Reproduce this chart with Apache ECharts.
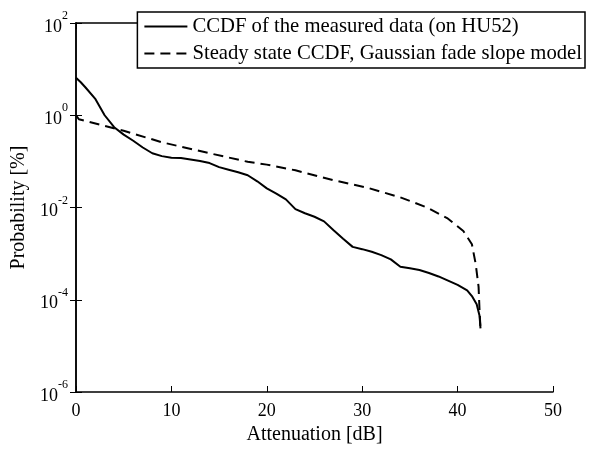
<!DOCTYPE html>
<html>
<head>
<meta charset="utf-8">
<script src="https://cdn.jsdelivr.net/npm/echarts@6/dist/echarts.min.js"></script>
<style>html,body{margin:0;padding:0;background:#fff}#c{width:596px;height:450px}</style>
</head>
<body>
<div id="c"></div>
<script>
// Measured CCDF (solid)
const measuredX = [0, 0.5, 1, 2, 3, 4, 5, 6, 7, 8, 9, 10, 11, 12, 13, 14, 15, 16, 17, 18, 19, 20, 21, 22, 23, 24, 25, 26, 27, 28, 29, 30, 31, 32, 33, 34, 35, 36, 37, 38, 39, 40, 41, 41.5, 42, 42.3, 42.4];
const measuredP = [6.5, 5.2, 4.0, 2.3, 1.0, 0.55, 0.38, 0.28, 0.2, 0.15, 0.13, 0.12, 0.118, 0.11, 0.102, 0.092, 0.075, 0.066, 0.058, 0.05, 0.037, 0.026, 0.02, 0.015, 0.0092, 0.0075, 0.0063, 0.005, 0.0032, 0.0021, 0.0014, 0.00125, 0.0011, 0.00093, 0.00075, 0.00052, 0.00048, 0.00044, 0.00038, 0.00032, 0.00026, 0.00021, 0.00016, 0.00012, 0.00008, 0.000045, 0.000024];
// Model CCDF (dashed)
const modelX = [0, 0.3, 3, 5, 9, 14, 18, 20, 23, 27, 30.5, 34, 36.8, 38.9, 40.6, 41.5, 41.9, 42.2, 42.3, 42.4];
const modelP = [1.0, 0.82, 0.59, 0.46, 0.26, 0.15, 0.098, 0.085, 0.064, 0.039, 0.027, 0.0166, 0.01, 0.0059, 0.0031, 0.0016, 0.00059, 0.00019, 0.000059, 0.000024];
const seriesNames = ['CCDF of the measured data (on HU52)', 'Steady state CCDF, Gaussian fade slope model'];
const xLabelName = 'Attenuation [dB]';
const yLabelName = 'Probability [%]';

const FONT = 'Liberation Serif';
const chart = echarts.init(document.getElementById('c'), null, {renderer: 'canvas'});
const axisLine = {show: true, lineStyle: {color: '#000', width: 1.5}};
const tick = {show: true, inside: true, length: 6, lineStyle: {color: '#000', width: 1}};
const yFmt = v => {
  const e = Math.round(Math.log10(v));
  return '{b|10}{s|' + e + '}';
};
const option = {
  animation: false,
  backgroundColor: '#fff',
  grid: {left: 76, right: 43, top: 23, bottom: 53, containLabel: false},
  legend: {
    orient: 'vertical',
    right: 11, top: 12,
    padding: [4, 3, 4, 6],
    itemGap: 6,
    itemWidth: 43, itemHeight: 14,
    borderColor: '#000', borderWidth: 1.5,
    backgroundColor: '#fff',
    itemStyle: {opacity: 0},
    textStyle: {fontFamily: FONT, fontSize: 20.7, color: '#000', lineHeight: 21},
    data: seriesNames
  },
  xAxis: [{
    type: 'value', min: 0, max: 50, interval: 10,
    name: xLabelName, nameLocation: 'middle', nameGap: 33,
    nameTextStyle: {fontFamily: FONT, fontSize: 20, color: '#000'},
    axisLine: axisLine, axisTick: tick, splitLine: {show: false},
    axisLabel: {fontFamily: FONT, fontSize: 18, color: '#000', margin: 10}
  }, {
    type: 'value', min: 0, max: 50, interval: 10, position: 'top',
    axisLine: axisLine, axisTick: tick, splitLine: {show: false},
    axisLabel: {show: false}
  }],
  yAxis: [{
    type: 'log', logBase: 10, min: 1e-6, max: 100, interval: 2,
    name: yLabelName, nameLocation: 'middle', nameGap: 37,
    nameTextStyle: {fontFamily: FONT, fontSize: 20, color: '#000'},
    axisLine: axisLine, axisTick: tick, splitLine: {show: false}, minorTick: {show: false},
    axisLabel: {
      margin: 8, color: '#000', formatter: yFmt,
      rich: {
        b: {fontFamily: FONT, fontSize: 18, color: '#000', verticalAlign: 'bottom'},
        s: {fontFamily: FONT, fontSize: 12, color: '#000', verticalAlign: 'top', padding: [0, 0, 14, 0]}
      }
    }
  }, {
    type: 'log', logBase: 10, min: 1e-6, max: 100, interval: 2, position: 'right',
    axisLine: axisLine, axisTick: tick, splitLine: {show: false},
    axisLabel: {show: false}
  }],
  series: [{
    name: seriesNames[0], type: 'line', xAxisIndex: 0, yAxisIndex: 0,
    symbol: 'none', smooth: false,
    lineStyle: {color: '#000', width: 2, type: 'solid'},
    itemStyle: {color: '#000'},
    data: measuredX.map((x, i) => [x, measuredP[i]])
  }, {
    name: seriesNames[1], type: 'line', xAxisIndex: 0, yAxisIndex: 0,
    symbol: 'none', smooth: false,
    lineStyle: {color: '#000', width: 2, type: [10, 6]},
    itemStyle: {color: '#000'},
    data: modelX.map((x, i) => [x, modelP[i]])
  }]
};
chart.setOption(option);
</script>
</body>
</html>
